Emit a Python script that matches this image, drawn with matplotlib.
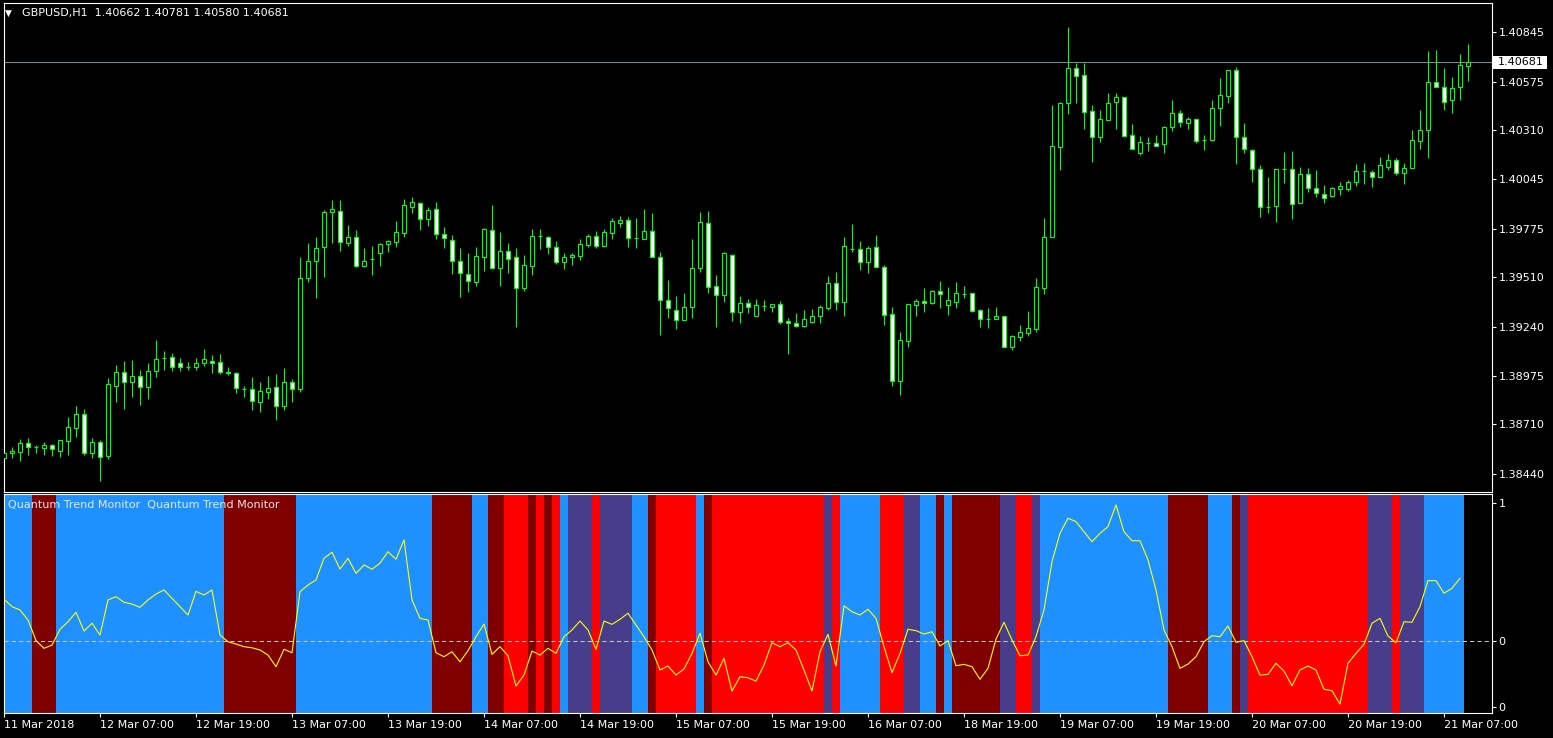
import matplotlib
matplotlib.use("Agg")
import matplotlib.pyplot as plt
import matplotlib.transforms as mtransforms
from matplotlib.patches import Rectangle
import numpy as np

# GBPUSD H1 candles, one per hour
opens = [
    1.38527, 1.38554, 1.38560, 1.38609, 1.38587, 1.38582, 1.38598, 1.38565, 1.38620, 1.38690,
    1.38767, 1.38554, 1.38614, 1.38538, 1.38919, 1.38995, 1.38941, 1.38973, 1.38913, 1.39000,
    1.39071, 1.39077, 1.39044, 1.39022, 1.39022, 1.39044, 1.39055, 1.39049, 1.38995, 1.38990,
    1.38903, 1.38903, 1.38832, 1.38886, 1.38913, 1.38810, 1.38941, 1.38903, 1.39507, 1.39599,
    1.39675, 1.39866, 1.39871, 1.39697, 1.39730, 1.39572, 1.39610, 1.39643, 1.39691, 1.39702,
    1.39751, 1.39893, 1.39915, 1.39828, 1.39882, 1.39746, 1.39713, 1.39599, 1.39528, 1.39485,
    1.39621, 1.39768, 1.39561, 1.39653, 1.39621, 1.39452, 1.39572, 1.39735, 1.39730, 1.39675,
    1.39594, 1.39621, 1.39626, 1.39686, 1.39735, 1.39681, 1.39751, 1.39806, 1.39822, 1.39724,
    1.39719, 1.39762, 1.39621, 1.39387, 1.39332, 1.39278, 1.39349, 1.39561, 1.39806, 1.39463,
    1.39414, 1.39632, 1.39322, 1.39370, 1.39300, 1.39354, 1.39349, 1.39365, 1.39273, 1.39262,
    1.39245, 1.39267, 1.39300, 1.39343, 1.39479, 1.39376, 1.39664, 1.39664, 1.39594, 1.39675,
    1.39566, 1.39311, 1.38946, 1.39164, 1.39360, 1.39381, 1.39370, 1.39436, 1.39360, 1.39376,
    1.39419, 1.39425, 1.39332, 1.39283, 1.39283, 1.39300, 1.39131, 1.39185, 1.39207, 1.39229,
    1.39452, 1.39730, 1.40219, 1.40459, 1.40649, 1.40611, 1.40415, 1.40274, 1.40366, 1.40464,
    1.40491, 1.40285, 1.40187, 1.40241, 1.40241, 1.40236, 1.40328, 1.40404, 1.40350, 1.40372,
    1.40257, 1.40257, 1.40431, 1.40497, 1.40638, 1.40274, 1.40203, 1.40100, 1.39893, 1.39898,
    1.40100, 1.40100, 1.39915, 1.40072, 1.39996, 1.39964, 1.39953, 1.39991, 1.39991, 1.40029,
    1.40089, 1.40083, 1.40056, 1.40110, 1.40149, 1.40078, 1.40105, 1.40252, 1.40312, 1.40573,
    1.40546, 1.40475, 1.40546, 1.40662]
highs = [
    1.38571, 1.38587, 1.38631, 1.38636, 1.38598, 1.38614, 1.38603, 1.38625, 1.38750, 1.38810,
    1.38794, 1.38636, 1.38625, 1.38962, 1.39033, 1.39055, 1.39060, 1.39006, 1.39044, 1.39169,
    1.39109, 1.39098, 1.39071, 1.39049, 1.39071, 1.39120, 1.39088, 1.39093, 1.39022, 1.38995,
    1.38919, 1.38968, 1.38941, 1.38973, 1.38984, 1.39017, 1.38957, 1.39621, 1.39697, 1.39730,
    1.39877, 1.39931, 1.39931, 1.39795, 1.39768, 1.39670, 1.39681, 1.39697, 1.39713, 1.39817,
    1.39936, 1.39947, 1.39920, 1.39893, 1.39920, 1.39784, 1.39740, 1.39670, 1.39643, 1.39675,
    1.39779, 1.39904, 1.39757, 1.39697, 1.39670, 1.39632, 1.39773, 1.39773, 1.39735, 1.39708,
    1.39643, 1.39643, 1.39719, 1.39746, 1.39762, 1.39773, 1.39833, 1.39844, 1.39838, 1.39833,
    1.39882, 1.39860, 1.39648, 1.39496, 1.39409, 1.39425, 1.39719, 1.39866, 1.39871, 1.39523,
    1.39648, 1.39637, 1.39409, 1.39392, 1.39392, 1.39387, 1.39365, 1.39381, 1.39289, 1.39316,
    1.39332, 1.39338, 1.39360, 1.39517, 1.39539, 1.39730, 1.39800, 1.39708, 1.39681, 1.39740,
    1.39577, 1.39349, 1.39213, 1.39365, 1.39392, 1.39452, 1.39441, 1.39490, 1.39458, 1.39485,
    1.39463, 1.39425, 1.39338, 1.39343, 1.39349, 1.39300, 1.39196, 1.39251, 1.39327, 1.39507,
    1.39833, 1.40448, 1.40464, 1.40872, 1.40676, 1.40676, 1.40448, 1.40421, 1.40513, 1.40513,
    1.40491, 1.40344, 1.40279, 1.40274, 1.40285, 1.40333, 1.40475, 1.40421, 1.40382, 1.40372,
    1.40285, 1.40475, 1.40595, 1.40638, 1.40655, 1.40350, 1.40208, 1.40121, 1.40056, 1.40100,
    1.40192, 1.40198, 1.40110, 1.40105, 1.40094, 1.40013, 1.40002, 1.40029, 1.40040, 1.40127,
    1.40132, 1.40094, 1.40165, 1.40181, 1.40159, 1.40132, 1.40312, 1.40421, 1.40742, 1.40747,
    1.40649, 1.40600, 1.40725, 1.40781]
lows = [
    1.38500, 1.38527, 1.38511, 1.38543, 1.38554, 1.38543, 1.38538, 1.38533, 1.38543, 1.38641,
    1.38543, 1.38527, 1.38402, 1.38522, 1.38832, 1.38794, 1.38859, 1.38816, 1.38848, 1.38968,
    1.39006, 1.39000, 1.39000, 1.39006, 1.39006, 1.39028, 1.38990, 1.38984, 1.38979, 1.38881,
    1.38859, 1.38788, 1.38777, 1.38848, 1.38734, 1.38788, 1.38832, 1.38886, 1.39485, 1.39398,
    1.39512, 1.39697, 1.39653, 1.39681, 1.39566, 1.39566, 1.39523, 1.39572, 1.39648, 1.39675,
    1.39730, 1.39860, 1.39768, 1.39789, 1.39719, 1.39670, 1.39528, 1.39403, 1.39430, 1.39463,
    1.39545, 1.39555, 1.39463, 1.39534, 1.39240, 1.39436, 1.39523, 1.39664, 1.39637, 1.39583,
    1.39555, 1.39577, 1.39604, 1.39675, 1.39670, 1.39675, 1.39719, 1.39784, 1.39675, 1.39670,
    1.39719, 1.39621, 1.39196, 1.39289, 1.39229, 1.39278, 1.39289, 1.39539, 1.39425, 1.39240,
    1.39376, 1.39273, 1.39262, 1.39316, 1.39300, 1.39327, 1.39322, 1.39256, 1.39093, 1.39240,
    1.39240, 1.39262, 1.39262, 1.39332, 1.39332, 1.39300, 1.39648, 1.39550, 1.39534, 1.39566,
    1.39251, 1.38919, 1.38870, 1.39131, 1.39300, 1.39322, 1.39365, 1.39343, 1.39305, 1.39343,
    1.39398, 1.39322, 1.39240, 1.39234, 1.39283, 1.39131, 1.39115, 1.39164, 1.39191, 1.39213,
    1.39419, 1.39730, 1.40094, 1.40399, 1.40459, 1.40317, 1.40138, 1.40246, 1.40366, 1.40317,
    1.40274, 1.40208, 1.40176, 1.40198, 1.40225, 1.40187, 1.40306, 1.40328, 1.40317, 1.40241,
    1.40203, 1.40252, 1.40333, 1.40459, 1.40127, 1.40187, 1.40029, 1.39838, 1.39860, 1.39811,
    1.40023, 1.39828, 1.39915, 1.39974, 1.39947, 1.39915, 1.39947, 1.39958, 1.39980, 1.40007,
    1.40018, 1.40002, 1.40056, 1.40094, 1.40067, 1.40018, 1.40105, 1.40208, 1.40159, 1.40546,
    1.40421, 1.40404, 1.40475, 1.40580]
closes = [
    1.38554, 1.38565, 1.38609, 1.38587, 1.38587, 1.38598, 1.38576, 1.38625, 1.38696, 1.38767,
    1.38554, 1.38614, 1.38533, 1.38930, 1.38995, 1.38941, 1.38973, 1.38913, 1.39000, 1.39066,
    1.39071, 1.39022, 1.39022, 1.39022, 1.39044, 1.39066, 1.39044, 1.38995, 1.38990, 1.38908,
    1.38903, 1.38837, 1.38892, 1.38908, 1.38810, 1.38941, 1.38903, 1.39507, 1.39599, 1.39670,
    1.39866, 1.39882, 1.39702, 1.39730, 1.39572, 1.39599, 1.39610, 1.39691, 1.39708, 1.39757,
    1.39904, 1.39920, 1.39828, 1.39877, 1.39746, 1.39724, 1.39599, 1.39534, 1.39490, 1.39626,
    1.39773, 1.39561, 1.39653, 1.39610, 1.39452, 1.39577, 1.39735, 1.39735, 1.39675, 1.39594,
    1.39621, 1.39632, 1.39691, 1.39735, 1.39681, 1.39757, 1.39817, 1.39822, 1.39724, 1.39724,
    1.39762, 1.39621, 1.39387, 1.39343, 1.39278, 1.39349, 1.39561, 1.39811, 1.39458, 1.39414,
    1.39643, 1.39322, 1.39370, 1.39349, 1.39360, 1.39354, 1.39365, 1.39267, 1.39262, 1.39245,
    1.39283, 1.39300, 1.39349, 1.39479, 1.39376, 1.39681, 1.39664, 1.39594, 1.39670, 1.39566,
    1.39305, 1.38946, 1.39169, 1.39365, 1.39381, 1.39370, 1.39436, 1.39419, 1.39387, 1.39425,
    1.39419, 1.39327, 1.39283, 1.39283, 1.39300, 1.39131, 1.39191, 1.39213, 1.39234, 1.39458,
    1.39730, 1.40225, 1.40459, 1.40649, 1.40606, 1.40410, 1.40274, 1.40372, 1.40459, 1.40491,
    1.40279, 1.40208, 1.40246, 1.40241, 1.40225, 1.40328, 1.40404, 1.40355, 1.40372, 1.40252,
    1.40257, 1.40431, 1.40502, 1.40638, 1.40274, 1.40208, 1.40100, 1.39893, 1.39893, 1.40100,
    1.40100, 1.39909, 1.40072, 1.39996, 1.39969, 1.39942, 1.39996, 1.40007, 1.40029, 1.40089,
    1.40089, 1.40056, 1.40121, 1.40149, 1.40078, 1.40105, 1.40257, 1.40312, 1.40573, 1.40546,
    1.40464, 1.40540, 1.40665, 1.40681]
header = "GBPUSD,H1  1.40662 1.40781 1.40580 1.40681"
last_price = 1.40681

# Quantum Trend Monitor: colour state per bar as runs, plus its line
# B = blue, M = maroon, R = red, S = slate blue
trend_runs = [
    ("B", 4), ("M", 3), ("B", 21), ("M", 9), ("B", 17), ("M", 5), ("B", 2), ("M", 2),
    ("R", 3), ("M", 1), ("R", 1), ("M", 1), ("R", 1), ("B", 1), ("S", 3), ("R", 1),
    ("S", 4), ("B", 2), ("M", 1), ("R", 5), ("B", 1), ("M", 1), ("R", 14), ("S", 1),
    ("R", 1), ("B", 5), ("R", 3), ("S", 2), ("B", 2), ("M", 1), ("B", 1), ("M", 6),
    ("S", 2), ("R", 2), ("S", 1), ("B", 16), ("M", 5), ("B", 3), ("M", 1), ("S", 1),
    ("R", 15), ("S", 3), ("R", 1), ("S", 3), ("B", 5)]
qtm_line = [
    0.303, 0.247, 0.223, 0.150, 0.000, -0.057, -0.033, 0.082, 0.137, 0.206,
    0.069, 0.126, 0.040, 0.296, 0.320, 0.279, 0.266, 0.242, 0.296, 0.339,
    0.369, 0.308, 0.247, 0.186, 0.359, 0.332, 0.369, 0.040, -0.009, -0.026,
    -0.045, -0.053, -0.069, -0.106, -0.191, -0.064, -0.089, 0.356, 0.405, 0.442,
    0.600, 0.644, 0.522, 0.600, 0.490, 0.551, 0.520, 0.564, 0.648, 0.593,
    0.734, 0.296, 0.162, 0.150, -0.089, -0.118, -0.082, -0.155, -0.074, 0.028,
    0.120, -0.101, -0.045, -0.111, -0.332, -0.252, -0.077, -0.106, -0.057, -0.094,
    0.028, 0.077, 0.142, 0.077, -0.064, 0.142, 0.118, 0.155, 0.199, 0.113,
    0.028, -0.069, -0.215, -0.186, -0.252, -0.208, -0.094, 0.053, -0.155, -0.252,
    -0.130, -0.369, -0.264, -0.272, -0.296, -0.179, -0.016, -0.045, -0.016, -0.069,
    -0.215, -0.369, -0.082, 0.045, -0.186, 0.254, 0.210, 0.186, 0.228, 0.162,
    -0.045, -0.235, -0.094, 0.082, 0.072, 0.047, 0.064, -0.040, -0.001, -0.184,
    -0.174, -0.191, -0.283, -0.203, 0.010, 0.133, 0.004, -0.111, -0.106, 0.028,
    0.223, 0.575, 0.782, 0.892, 0.867, 0.794, 0.721, 0.782, 0.831, 0.989,
    0.794, 0.728, 0.728, 0.588, 0.369, 0.077, -0.045, -0.203, -0.172, -0.118,
    -0.009, 0.035, 0.028, 0.106, -0.013, -0.001, -0.118, -0.252, -0.247, -0.166,
    -0.223, -0.330, -0.215, -0.186, -0.215, -0.356, -0.366, -0.464, -0.166, -0.094,
    -0.028, 0.126, 0.162, 0.033, -0.016, 0.137, 0.133, 0.247, 0.437, 0.437,
    0.345, 0.381, 0.454]

price_ticks = [1.40845, 1.40575, 1.40310, 1.40045, 1.39775, 1.39510,
               1.39240, 1.38975, 1.38710, 1.38440]
time_ticks = list(range(0, 181, 12))
time_labels = ["11 Mar 2018", "12 Mar 07:00", "12 Mar 19:00", "13 Mar 07:00",
               "13 Mar 19:00", "14 Mar 07:00", "14 Mar 19:00", "15 Mar 07:00",
               "15 Mar 19:00", "16 Mar 07:00", "18 Mar 19:00", "19 Mar 07:00",
               "19 Mar 19:00", "20 Mar 07:00", "20 Mar 19:00", "21 Mar 07:00"]
qtm_ticks = [1.0, 0.0, -0.485]
qtm_labels = ["1", "0", "0"]

state_colors = {"B": "#1E90FF", "M": "#800000", "R": "#FF0000", "S": "#483D8B"}
LIME = "#00FF00"

W, H = 1553, 738
fig = plt.figure(figsize=(W / 100, H / 100), dpi=100, facecolor="black")


def px_axes(l, t, r, b):
    a = fig.add_axes([l / W, 1 - b / H, (r - l) / W, (b - t) / H])
    a.set_facecolor("black")
    for s in a.spines.values():
        s.set_color("white")
        s.set_linewidth(0.8)
    return a


ax = px_axes(3.5, 2.7, 1491.5, 492.3)
ax2 = px_axes(3.5, 494, 1491.5, 713.3)
xlim = (-0.0625, 185.94)

# candles
o = np.array(opens); h = np.array(highs); l = np.array(lows); c = np.array(closes)
x = np.arange(len(o))
ax.vlines(x, l, h, color=LIME, lw=0.8, zorder=2)
body_cols = ["black" if cc >= oo else "white" for oo, cc in zip(o, c)]
ax.bar(x, np.abs(c - o), bottom=np.minimum(o, c), width=0.5, color=body_cols,
       edgecolor=LIME, linewidth=0.8, zorder=3)
ax.axhline(last_price, color="#778899", lw=0.8, zorder=1)

ax.set_xlim(*xlim)
ax.set_ylim(1.38341, 1.41004)
ax.tick_params(axis="x", bottom=False, labelbottom=False)
ax.yaxis.tick_right()
ax.set_yticks(price_ticks)
ax.set_yticklabels([f"{p:.5f}" for p in price_ticks])
ax.tick_params(axis="y", colors="white", length=3, width=0.8, pad=2, labelsize=8)

# current price tag
blend = mtransforms.blended_transform_factory(ax.transAxes, ax.transData)
ax.add_patch(Rectangle((1.0005, last_price - 0.00035), 55 / 1488, 0.0007,
                       transform=blend, facecolor="white", edgecolor="none",
                       clip_on=False, zorder=10))
ax.text(1.0 + 6 / 1488, last_price, f"{last_price:.5f}", transform=blend,
        color="black", fontsize=8, va="center", ha="left", zorder=11, clip_on=False)

fig.text(5 / W, 1 - 13 / H, "\u25bc", color="white", fontsize=6.5, va="center")
fig.text(22 / W, 1 - 13 / H, header, color="white", fontsize=8, va="center")

# indicator panel
states = [s for s, k in trend_runs for _ in range(k)]
ax2.bar(np.arange(len(states)), 3.0, bottom=-1.5, width=1.0,
        color=[state_colors[s] for s in states], linewidth=0,
        antialiased=False, zorder=1)
ax2.axhline(0, color="#C8C8C8", lw=0.75, dashes=(4, 3), zorder=2)
ax2.plot(np.arange(len(qtm_line)), qtm_line, color="#FFFF00", lw=0.8, zorder=3)

ax2.set_xlim(*xlim)
ax2.set_ylim(-0.531, 1.069)
ax2.set_xticks(time_ticks)
ax2.set_xticklabels(time_labels, ha="left")
ax2.tick_params(axis="x", colors="white", length=3, width=0.8, pad=2, labelsize=8)
ax2.yaxis.tick_right()
ax2.set_yticks(qtm_ticks)
ax2.set_yticklabels(qtm_labels)
ax2.tick_params(axis="y", colors="white", length=3, width=0.8, pad=2, labelsize=8)

fig.text(8 / W, 1 - 505 / H, "Quantum Trend Monitor  Quantum Trend Monitor",
         color="#E8E8E8", fontsize=8, va="center")

fig.savefig("out.png", dpi=100, facecolor="black")
